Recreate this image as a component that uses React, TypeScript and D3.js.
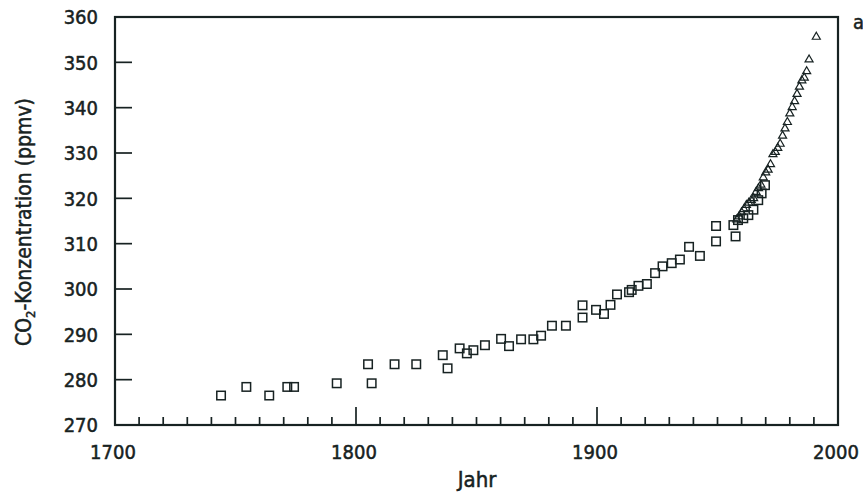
import React, { useEffect, useRef } from "react";
import * as d3 from "d3";

// Ice core measurements (squares)
const iceYears = [
  1744, 1754.5, 1764, 1771.5, 1774.3, 1792, 1805, 1806.5, 1816, 1825, 1836,
  1838, 1843, 1846, 1848.7, 1853.5, 1860.2, 1863.5, 1868.5, 1873.6, 1876.8,
  1881.3, 1887.1, 1894, 1894, 1899.6, 1902.9, 1905.6, 1908.3, 1913.3, 1914.4,
  1917.2, 1920.7, 1924.1, 1927.2, 1931, 1934.4, 1938.2, 1942.7, 1949.4,
  1949.4, 1956.6, 1957.5, 1958.5, 1960.7, 1962.8, 1964.9, 1966.9, 1968.3,
  1969.7,
];
const iceValues = [
  276.5, 278.4, 276.5, 278.4, 278.4, 279.2, 283.4, 279.2, 283.4, 283.4, 285.4,
  282.5, 286.9, 285.8, 286.5, 287.6, 289.0, 287.4, 288.9, 288.9, 289.7, 291.9,
  291.9, 296.4, 293.7, 295.4, 294.5, 296.5, 298.8, 299.3, 299.8, 300.7, 301.1,
  303.5, 305.0, 305.7, 306.5, 309.3, 307.3, 313.9, 310.5, 314.1, 311.6, 315.2,
  315.6, 316.3, 317.5, 319.6, 321.1, 322.9,
];

// Direct atmospheric measurements (triangles)
const mloYears = [
  1958, 1959, 1960, 1961, 1962, 1963, 1964, 1965, 1966, 1967, 1968, 1969,
  1970, 1971, 1972, 1973, 1974, 1975, 1976, 1977, 1978, 1979, 1980, 1981,
  1982, 1983, 1984, 1985, 1986, 1987, 1988, 1991,
];
const mloValues = [
  315.3, 316.0, 316.9, 317.6, 318.5, 319.0, 319.6, 320.0, 321.4, 322.2, 323.0,
  324.6, 325.7, 326.3, 327.5, 329.7, 330.2, 331.1, 332.0, 333.8, 335.4, 336.8,
  338.7, 340.1, 341.4, 343.0, 344.6, 346.0, 346.6, 348.0, 350.6, 355.6,
];

const yTicks = [270, 280, 290, 300, 310, 320, 330, 340, 350, 360];
const xLabels = [1700, 1800, 1900, 2000];
const xMinor = d3.range(1710, 2000, 10);

const ink = "#172222";
const font =
  "'DejaVu Sans Condensed', 'Liberation Sans Narrow', 'DejaVu Sans', sans-serif";

export default function App() {
  const ref = useRef<SVGSVGElement>(null);

  useEffect(() => {
    const svg = d3.select(ref.current);
    svg.selectAll("*").remove();

    const x = d3.scaleLinear().domain([1700, 2000]).range([115, 838]);
    const y = d3.scaleLinear().domain([270, 360]).range([425, 17]);

    // Frame
    svg
      .append("rect")
      .attr("x", x(1700))
      .attr("y", y(360))
      .attr("width", x(2000) - x(1700))
      .attr("height", y(270) - y(360))
      .attr("fill", "none")
      .attr("stroke", ink)
      .attr("stroke-width", 2.2);

    // Y ticks, pointing inward
    svg
      .append("g")
      .selectAll("line")
      .data(yTicks.filter((t) => t > 270 && t < 360))
      .join("line")
      .attr("x1", x(1700))
      .attr("x2", x(1700) + 17)
      .attr("y1", (d) => y(d))
      .attr("y2", (d) => y(d))
      .attr("stroke", ink)
      .attr("stroke-width", 1.7);

    // X ticks, pointing inward
    svg
      .append("g")
      .selectAll("line")
      .data(xMinor)
      .join("line")
      .attr("x1", (d) => x(d))
      .attr("x2", (d) => x(d))
      .attr("y1", y(270))
      .attr("y2", (d) => y(270) - (d % 100 === 0 ? 18 : 8))
      .attr("stroke", ink)
      .attr("stroke-width", 1.7);

    const label = (sel: any, size: number) =>
      sel
        .attr("font-family", font)
        .attr("font-size", size)
        .attr("fill", ink)
        .attr("stroke", ink)
        .attr("stroke-width", 0.5);

    // Tick labels
    svg
      .append("g")
      .selectAll("text")
      .data(yTicks)
      .join("text")
      .attr("x", 98)
      .attr("y", (d) => y(d))
      .attr("dy", "0.36em")
      .attr("text-anchor", "end")
      .call(label, 20)
      .text((d) => d);

    svg
      .append("g")
      .selectAll("text")
      .data(xLabels)
      .join("text")
      .attr("x", (d) => x(d) - 2)
      .attr("y", 459)
      .attr("text-anchor", "middle")
      .call(label, 20)
      .text((d) => d);

    // Axis titles
    svg
      .append("text")
      .attr("x", 477)
      .attr("y", 487)
      .attr("text-anchor", "middle")
      .call(label, 22)
      .text("Jahr");

    const yTitle = svg
      .append("text")
      .attr("transform", "translate(31, 222) rotate(-90)")
      .attr("text-anchor", "middle")
      .call(label, 21);
    yTitle.append("tspan").text("CO");
    yTitle.append("tspan").attr("font-size", 13).attr("dy", 4).text("2");
    yTitle.append("tspan").attr("dy", -4).text("-Konzentration (ppmv)");

    // Panel letter
    svg
      .append("text")
      .attr("x", 853)
      .attr("y", 29)
      .call(label, 20)
      .text("a");

    // Ice core squares
    const s = 8.5;
    svg
      .append("g")
      .selectAll("rect")
      .data(iceYears.map((yr, i) => ({ yr, v: iceValues[i] })))
      .join("rect")
      .attr("x", (d) => x(d.yr) - s / 2)
      .attr("y", (d) => y(d.v) - s / 2)
      .attr("width", s)
      .attr("height", s)
      .attr("fill", "none")
      .attr("stroke", ink)
      .attr("stroke-width", 1.5);

    // Atmospheric triangles
    const tri = d3.symbol().type(d3.symbolTriangle).size(28);
    svg
      .append("g")
      .selectAll("path")
      .data(mloYears.map((yr, i) => ({ yr, v: mloValues[i] })))
      .join("path")
      .attr("d", tri)
      .attr("transform", (d) => `translate(${x(d.yr)}, ${y(d.v)})`)
      .attr("fill", "none")
      .attr("stroke", ink)
      .attr("stroke-width", 1.2);
  }, []);

  return (
    <svg
      ref={ref}
      width={863}
      height={494}
      style={{ position: "absolute", left: 0, top: 0, background: "#fff" }}
    />
  );
}
